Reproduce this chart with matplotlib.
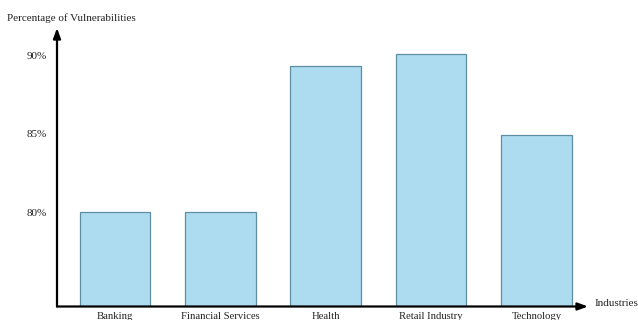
import matplotlib.pyplot as plt
import numpy as np

industries = ["Banking", "Financial Services", "Health", "Retail Industry", "Technology"]
vuln_pct = [80.0, 80.0, 89.3, 90.1, 84.9]
y_ticks = [80, 85, 90]
y_tick_labels = ["80%", "85%", "90%"]

plt.rcParams['font.family'] = ['Liberation Serif', 'DejaVu Serif']

fig = plt.figure(figsize=(6.38, 3.2), dpi=100)
ax = fig.add_axes([57/638, 1 - 306.5/320, (588 - 57)/638, (306.5 - 28)/320])

x = np.arange(len(industries))
ax.bar(x, vuln_pct, width=0.67, color="#addbf0", edgecolor="#5f8ea3", linewidth=0.9)

ax.set_xlim(-0.55, 4.49)
ax.set_ylim(74, 91.75)

for s in ax.spines.values():
    s.set_visible(False)

# axes drawn as arrows
arrow = dict(arrowstyle="-|>,head_length=0.6,head_width=0.22", color="black", lw=1.6,
             shrinkA=0, shrinkB=0)
ax.annotate("", xy=(0, 1), xytext=(0, 0), xycoords="axes fraction", arrowprops=arrow)
ax.annotate("", xy=(1, 0), xytext=(0, 0), xycoords="axes fraction", arrowprops=arrow)

ax.set_yticks(y_ticks)
ax.set_yticklabels(y_tick_labels, fontsize=8, color="#222222")
ax.set_xticks(x)
ax.set_xticklabels(industries, fontsize=7.7, color="#222222")
ax.tick_params(axis="y", length=0, pad=7.5)
ax.tick_params(axis="x", length=0, pad=4)

fig.text(7/638, 1 - 18/320, "Percentage of Vulnerabilities", fontsize=8, color="#222222",
         ha="left", va="center")
fig.text(595/638, 1 - 303/320, "Industries", fontsize=8, color="#222222", ha="left", va="center")

fig.savefig("out.png", dpi=100)
